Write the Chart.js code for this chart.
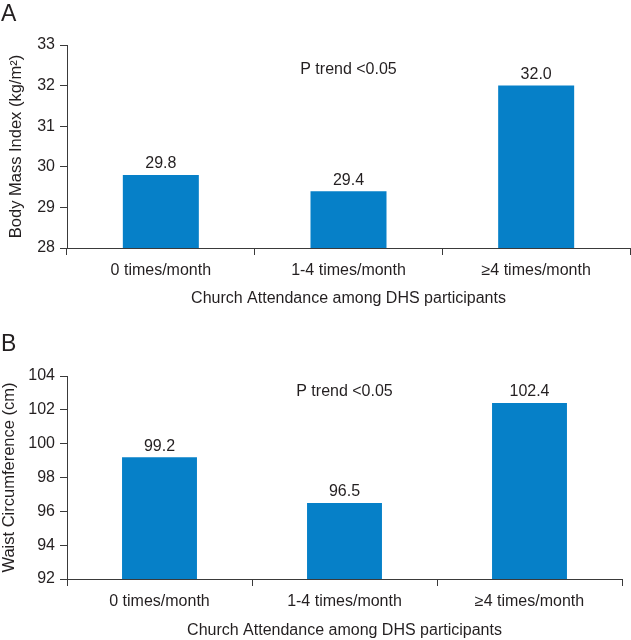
<!DOCTYPE html>
<html>
<head>
<meta charset="utf-8">
<script src="https://cdn.jsdelivr.net/npm/chart.js@4"></script>
<style>
  body { margin: 0; background: #fff; }
  canvas { display: block; }
</style>
</head>
<body>
<canvas id="chartA" width="631" height="320"></canvas>
<canvas id="chartB" width="631" height="320"></canvas>
<script>
// Data
const categories = ["0 times/month", "1-4 times/month", "\u22654 times/month"];
const bmiValues = [29.8, 29.4, 32.0];
const waistValues = [99.2, 96.5, 102.4];
const bmiTicks = [28, 29, 30, 31, 32, 33];
const waistTicks = [92, 94, 96, 98, 100, 102, 104];
const xTitle = "Church Attendance among DHS participants";
const trendNote = "P trend <0.05";

const FONT = "'Liberation Sans', Arial, sans-serif";
const BAR = "#0680c8";
const TEXT = "#231f20";
const AXIS = "#3a3a3a";

Chart.defaults.font.family = FONT;
Chart.defaults.color = TEXT;

// value labels above bars, panel letter, trend note
function panelPlugin(letter, letterY, noteValue) {
    return {
        id: "panel" + letter,
        afterDatasetsDraw(chart) {
            const ctx = chart.ctx;
            const meta = chart.getDatasetMeta(0);
            const data = chart.data.datasets[0].data;
            ctx.save();
            ctx.fillStyle = TEXT;
            ctx.font = "16px " + FONT;
            ctx.textAlign = "center";
            ctx.textBaseline = "bottom";
            meta.data.forEach((bar, i) => {
                ctx.fillText(data[i].toFixed(1), bar.x, bar.y - 3);
            });
            // trend note above the middle category
            ctx.textBaseline = "middle";
            const x = chart.scales.x.getPixelForValue(1);
            const y = chart.scales.y.getPixelForValue(noteValue);
            ctx.fillText(trendNote, x, y);
            // panel letter
            ctx.font = "23px " + FONT;
            ctx.textAlign = "left";
            ctx.fillText(letter, 1, letterY);
            ctx.restore();
        }
    };
}

function makeChart(id, values, ticks, yTitle, opts) {
    const ctx = document.getElementById(id).getContext("2d");
    return new Chart(ctx, {
        type: "bar",
        data: {
            labels: categories,
            datasets: [{
                data: values,
                backgroundColor: BAR,
                categoryPercentage: 1,
                barPercentage: 0.405
            }]
        },
        options: {
            responsive: false,
            animation: false,
            layout: { padding: { top: opts.top, right: opts.right, left: 0, bottom: 0 } },
            plugins: {
                legend: { display: false },
                tooltip: { enabled: false }
            },
            scales: {
                x: {
                    offset: true,
                    grid: {
                        offset: true,
                        drawOnChartArea: false,
                        tickLength: 7,
                        color: AXIS
                    },
                    border: { color: AXIS, width: 1 },
                    ticks: { font: { size: 16 }, padding: 6, color: TEXT, maxRotation: 0 },
                    title: {
                        display: true,
                        text: xTitle,
                        font: { size: 16 },
                        color: TEXT,
                        padding: { top: 0, bottom: opts.xTitlePad }
                    },
                    afterFit(scale) { scale.height = opts.xHeight; }
                },
                y: {
                    min: ticks[0],
                    max: ticks[ticks.length - 1],
                    afterBuildTicks(scale) {
                        scale.ticks = ticks.map(v => ({ value: v }));
                    },
                    grid: {
                        drawOnChartArea: false,
                        tickLength: 7,
                        color: AXIS
                    },
                    border: { color: AXIS, width: 1 },
                    ticks: { font: { size: 16 }, padding: 5, color: TEXT },
                    title: {
                        display: true,
                        text: yTitle,
                        font: { size: 16.5 },
                        color: TEXT,
                        padding: { top: opts.yTitlePad, bottom: 0 }
                    },
                    afterFit(scale) { scale.width = 67; }
                }
            }
        },
        plugins: [panelPlugin(opts.letter, opts.letterY, opts.noteValue)]
    });
}

makeChart("chartA", bmiValues, bmiTicks, "Body Mass Index (kg/m\u00b2)", {
    letter: "A", letterY: 15, noteValue: 32.4,
    top: 45, right: 1, xHeight: 72, xTitlePad: 12, yTitlePad: 7
});

makeChart("chartB", waistValues, waistTicks, "Waist Circumference (cm)", {
    letter: "B", letterY: 25, noteValue: 103.05,
    top: 56, right: 9, xHeight: 61, xTitlePad: 0, yTitlePad: 0
});
</script>
</body>
</html>
